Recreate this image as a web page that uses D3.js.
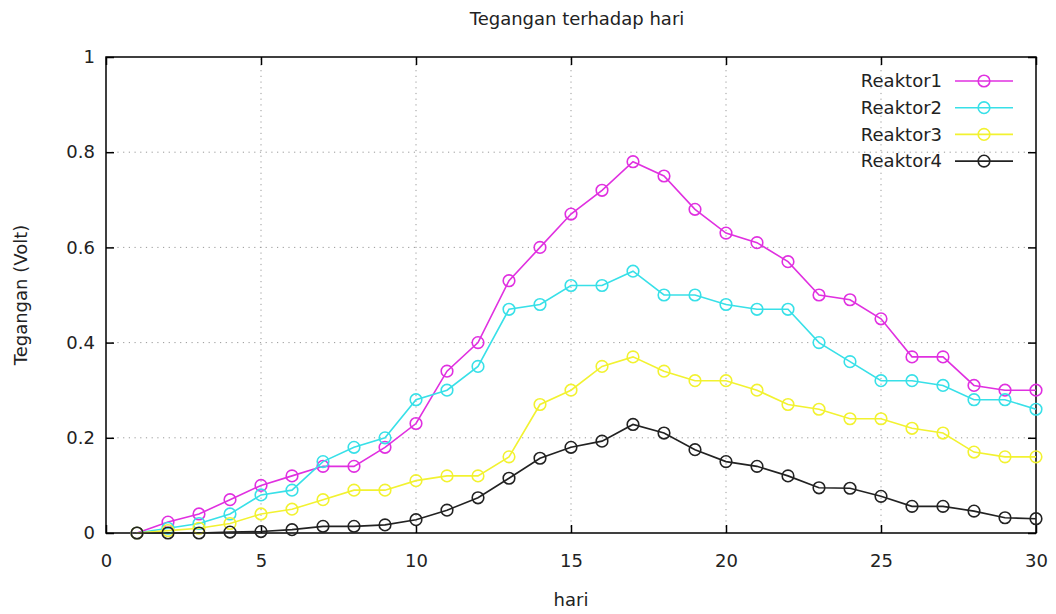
<!DOCTYPE html>
<html><head><meta charset="utf-8">
<script src="https://cdn.jsdelivr.net/npm/d3@7"></script>
<style>body{margin:0;background:#fff}svg{display:block}text{font-family:"DejaVu Sans",sans-serif;fill:#222}</style>
</head><body><svg id="c" width="1056" height="614"></svg>
<script>
const days = d3.range(1, 31);
const reaktor1 = [0,0.023,0.04,0.07,0.10,0.12,0.14,0.14,0.18,0.23,0.34,0.40,0.53,0.60,0.67,0.72,0.78,0.75,0.68,0.63,0.61,0.57,0.50,0.49,0.45,0.37,0.37,0.31,0.30,0.30];
const reaktor2 = [0,0.01,0.02,0.04,0.08,0.09,0.15,0.18,0.20,0.28,0.30,0.35,0.47,0.48,0.52,0.52,0.55,0.50,0.50,0.48,0.47,0.47,0.40,0.36,0.32,0.32,0.31,0.28,0.28,0.26];
const reaktor3 = [0,0.005,0.01,0.02,0.04,0.05,0.07,0.09,0.09,0.11,0.12,0.12,0.16,0.27,0.30,0.35,0.37,0.34,0.32,0.32,0.30,0.27,0.26,0.24,0.24,0.22,0.21,0.17,0.16,0.16];
const reaktor4 = [0,0,0,0.002,0.003,0.007,0.014,0.014,0.017,0.028,0.048,0.074,0.115,0.157,0.18,0.193,0.228,0.21,0.175,0.15,0.14,0.12,0.095,0.094,0.077,0.056,0.056,0.046,0.032,0.03];
const seriesNames = ["Reaktor1","Reaktor2","Reaktor3","Reaktor4"];
const seriesColors = ["#e030e0","#38e0e8","#f2f230","#222222"];
const xTicks = [0,5,10,15,20,25,30];
const yTicks = [0,0.2,0.4,0.6,0.8,1];
const titleText = "Tegangan terhadap hari";
const xLabel = "hari";
const yLabel = "Tegangan (Volt)";

const svg = d3.select("#c");
const L = 106, R = 1036, T = 57, B = 533;
const FS = 18;
const x = d3.scaleLinear().domain([0,30]).range([L,R]);
const y = d3.scaleLinear().domain([0,1]).range([B,T]);

// grid
const g = svg.append("g");
g.selectAll(".gx").data(xTicks.slice(1,-1)).join("line")
 .attr("x1",d=>x(d)).attr("x2",d=>x(d)).attr("y1",B).attr("y2",T)
 .attr("stroke","#999").attr("stroke-width",1).attr("stroke-dasharray","1.2,4.5");
g.selectAll(".gy").data(yTicks.slice(1,-1)).join("line")
 .attr("y1",d=>y(d)).attr("y2",d=>y(d)).attr("x1",L).attr("x2",R)
 .attr("stroke","#999").attr("stroke-width",1).attr("stroke-dasharray","1.2,4.5");

// axes
const fmt = d => d===0 ? "0" : d===1 ? "1" : d3.format("")(d);
const axB = svg.append("g").attr("transform",`translate(0,${B})`)
 .call(d3.axisBottom(x).tickValues(xTicks).tickSizeInner(-8).tickSizeOuter(0).tickPadding(21).tickFormat(d3.format("d")));
const axT = svg.append("g").attr("transform",`translate(0,${T})`)
 .call(d3.axisTop(x).tickValues(xTicks).tickSizeInner(-8).tickSizeOuter(0).tickFormat(""));
const axL = svg.append("g").attr("transform",`translate(${L},0)`)
 .call(d3.axisLeft(y).tickValues(yTicks).tickSizeInner(-8).tickSizeOuter(0).tickPadding(11).tickFormat(fmt));
const axR = svg.append("g").attr("transform",`translate(${R},0)`)
 .call(d3.axisRight(y).tickValues(yTicks).tickSizeInner(-8).tickSizeOuter(0).tickFormat(""));
[axB,axT,axL,axR].forEach(a=>{a.select(".domain").remove();a.selectAll("line").attr("stroke","#000").attr("stroke-width",1.5);a.selectAll("text").attr("font-size",FS).attr("fill","#222").attr("font-family","DejaVu Sans");});

svg.append("rect").attr("x",L).attr("y",T).attr("width",R-L).attr("height",B-T)
 .attr("fill","none").attr("stroke","#000").attr("stroke-width",1.5);

// series
const all = [reaktor1,reaktor2,reaktor3,reaktor4];
const line = d3.line().x((d,i)=>x(days[i])).y(d=>y(d));
all.forEach((vals,k)=>{
  const gs = svg.append("g");
  gs.append("path").datum(vals).attr("d",line).attr("fill","none")
    .attr("stroke",seriesColors[k]).attr("stroke-width",1.6);
  gs.selectAll("circle").data(vals).join("circle")
    .attr("cx",(d,i)=>x(days[i])).attr("cy",d=>y(d)).attr("r",5.8)
    .attr("fill","none").attr("stroke",seriesColors[k]).attr("stroke-width",1.6);
});

// legend
const lg = svg.append("g");
seriesNames.forEach((n,k)=>{
  const yy = 81 + k*26.7;
  lg.append("text").attr("x",942).attr("y",yy).attr("dy","0.35em").attr("text-anchor","end")
    .attr("font-size",FS).text(n);
  lg.append("line").attr("x1",955).attr("x2",1013).attr("y1",yy).attr("y2",yy)
    .attr("stroke",seriesColors[k]).attr("stroke-width",1.6);
  lg.append("circle").attr("cx",984).attr("cy",yy).attr("r",5.8).attr("fill","none")
    .attr("stroke",seriesColors[k]).attr("stroke-width",1.6);
});

svg.append("text").attr("x",577).attr("y",19).attr("dy","0.35em").attr("text-anchor","middle").attr("font-size",FS).text(titleText);
svg.append("text").attr("x",571).attr("y",600).attr("dy","0.35em").attr("text-anchor","middle").attr("font-size",FS).text(xLabel);
svg.append("text").attr("transform","translate(21,295) rotate(-90)").attr("dy","0.35em").attr("text-anchor","middle").attr("font-size",FS).text(yLabel);
</script></body></html>
